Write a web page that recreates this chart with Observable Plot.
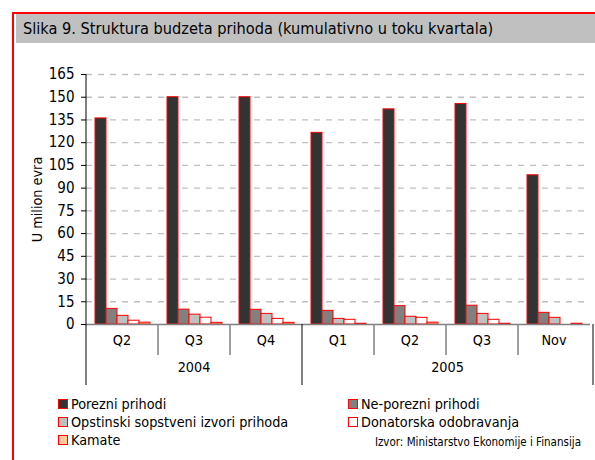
<!DOCTYPE html>
<html><head><meta charset="utf-8">
<script src="https://cdn.jsdelivr.net/npm/d3@7"></script>
<script src="https://cdn.jsdelivr.net/npm/@observablehq/plot@0.6"></script>
<style>
body{margin:0;background:#fff;}
#wrap{position:relative;width:595px;height:460px;overflow:hidden;font-family:"DejaVu Sans Condensed","DejaVu Sans",sans-serif;color:#000;}
#border{position:absolute;left:12px;top:12px;width:620px;height:480px;border-left:2px solid #f00;border-top:2px solid #f00;box-sizing:border-box;}
#title{position:absolute;left:16px;top:14px;width:600px;height:29px;background:#c0c0c0;font-size:16.2px;line-height:29px;padding-left:7px;box-sizing:border-box;white-space:nowrap;}
#chart{position:absolute;left:0;top:0;}
.leg{position:absolute;font-size:14.3px;display:flex;align-items:center;white-space:nowrap;height:16px;}
.sw{width:10px;height:10px;border:1.5px solid #f00;margin-right:3px;box-sizing:border-box;}
#src{position:absolute;font-size:11.5px;right:14px;top:435px;white-space:nowrap;}
</style></head>
<body>
<div id="wrap">
  <div id="border"></div>
  <div id="title"></div>
  <div id="chart"></div>
  <div id="legend"></div>
  <div id="src"></div>
</div>
<script>
const categories = ["2004 Q2","2004 Q3","2004 Q4","2005 Q1","2005 Q2","2005 Q3","2005 Nov"];
const years = ["2004","2005"];
const series = ["Porezni prihodi","Ne-porezni prihodi","Opstinski sopstveni izvori prihoda","Donatorska odobravanja","Kamate"];
const porezni   = [136, 150, 150, 126.5, 142, 145.5, 98.5];
const neporezni = [10.3, 9.8, 9.7, 9.0, 12.1, 12.4, 7.7];
const opstinski = [5.7, 6.5, 7.0, 3.7, 5.1, 7.0, 4.4];
const donatorska= [2.5, 4.5, 3.7, 3.1, 4.4, 3.1, 0];
const kamate    = [1.2, 1.1, 1.1, 0.5, 1.2, 0.5, 0.5];
const yTicks = [0,15,30,45,60,75,90,105,120,135,150,165];
const colors = ["#333333","#808080","#c0c0c0","#ffffff","#ffcc99"];
const titleText = "Slika 9. Struktura budzeta prihoda (kumulativno u toku kvartala)";
const yLabel = "U milion evra";
const sourceText = "Izvor: Ministarstvo Ekonomije i Finansija";

document.getElementById("title").textContent = titleText;
document.getElementById("src").textContent = sourceText;

const values = [porezni, neporezni, opstinski, donatorska, kamate];
const data = categories.flatMap((c, i) => series.map((s, j) => ({cat: c, series: s, value: values[j][i]})));

const font = '"DejaVu Sans Condensed","DejaVu Sans",sans-serif';
const plot = Plot.plot({
  width: 595, height: 460,
  marginTop: 74, marginLeft: 83, marginRight: 2, marginBottom: 136,
  style: {fontFamily: font, fontSize: "14.3px", color: "#000", background: "transparent", overflow: "visible"},
  fx: {domain: categories, padding: 0, label: null, axis: null},
  x: {domain: series, paddingInner: 0, paddingOuter: 0.7, axis: null},
  y: {domain: [0, 165], ticks: yTicks, tickSize: 5, tickPadding: 7, label: yLabel, labelAnchor: "center", labelOffset: 55, labelArrow: "none"},
  color: {domain: series, range: colors},
  marks: [
    Plot.ruleY(yTicks.slice(1), {stroke: "#c0c0c0", strokeWidth: 1.3, strokeDasharray: "6,6"}),
    Plot.barY(data, {fx: "cat", x: "series", y: "value", fill: "series", stroke: "#ff0000", strokeWidth: 1}),
    Plot.ruleY([0], {stroke: "#808080", strokeWidth: 1.5})
  ]
});
document.getElementById("chart").appendChild(plot);
d3.select(plot).selectAll("g[aria-label='y-axis tick label'] text").attr("font-size", 15);

// hierarchical category axis drawn from Plot's own scales
const fx = plot.scale("fx");
const ys = plot.scale("y");
const y0 = ys.apply(0);
const yTop = ys.apply(165);
const svg = d3.select(plot);
const g = svg.append("g").attr("font-family", font).attr("font-size", 14.3);
const left = c => fx.apply(c);
const right = fx.range[1];
const yearStart = years.map(yr => categories.findIndex(c => c.startsWith(yr)));
g.append("line").attr("x1", left(categories[0])).attr("x2", left(categories[0]))
  .attr("y1", yTop).attr("y2", y0 + 61).attr("stroke", "#000");
categories.forEach((c, i) => {
  if (i > 0) {
    const isYear = yearStart.includes(i);
    g.append("line").attr("x1", left(c)).attr("x2", left(c)).attr("y1", y0).attr("y2", y0 + (isYear ? 61 : 31))
      .attr("stroke", isYear ? "#000" : "#808080").attr("stroke-width", isYear ? 1 : 1.5);
  }
  g.append("text").attr("x", left(c) + fx.bandwidth / 2).attr("y", y0 + 16).attr("dy", "0.35em")
    .attr("text-anchor", "middle").text(c.split(" ")[1]);
});
g.append("line").attr("x1", right).attr("x2", right).attr("y1", y0).attr("y2", y0 + 61).attr("stroke", "#000");
years.forEach((yr, k) => {
  const a = left(categories[yearStart[k]]);
  const b = k + 1 < years.length ? left(categories[yearStart[k + 1]]) : right;
  g.append("text").attr("x", (a + b) / 2).attr("y", y0 + 43).attr("dy", "0.35em")
    .attr("text-anchor", "middle").text(yr);
});

// legend
const legPos = [[58, 396], [348, 396], [58, 414], [348, 414], [58, 432]];
const legend = document.getElementById("legend");
series.forEach((s, j) => {
  const d = document.createElement("div");
  d.className = "leg";
  d.style.left = legPos[j][0] + "px";
  d.style.top = legPos[j][1] + "px";
  const sw = document.createElement("div");
  sw.className = "sw";
  sw.style.background = colors[j];
  const t = document.createElement("span");
  t.textContent = s;
  d.appendChild(sw); d.appendChild(t);
  legend.appendChild(d);
});
</script>
</body></html>
